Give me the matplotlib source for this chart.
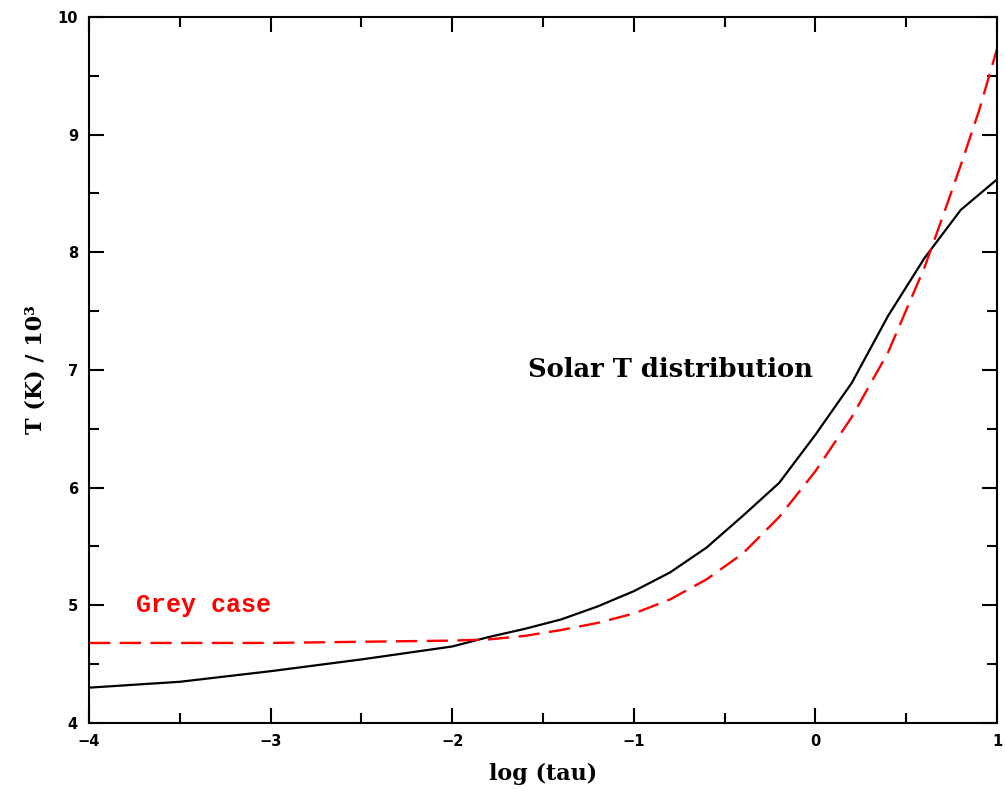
import matplotlib
matplotlib.use('Agg')
import matplotlib.pyplot as plt
from matplotlib.ticker import MultipleLocator

# log(tau) sample points and temperatures (units of 10^3 K)
log_tau = [-4.0, -3.5, -3.0, -2.5, -2.0, -1.8, -1.6, -1.4, -1.2, -1.0,
           -0.8, -0.6, -0.4, -0.2, 0.0, 0.2, 0.4, 0.6, 0.8, 1.0]
solar_T = [4.30, 4.35, 4.44, 4.54, 4.65, 4.73, 4.80, 4.88, 4.99, 5.12,
           5.28, 5.49, 5.76, 6.04, 6.45, 6.89, 7.46, 7.95, 8.36, 8.62]

grey_tau = [-4.0, -3.5, -3.0, -2.5, -2.0, -1.8, -1.6, -1.4, -1.2, -1.0,
            -0.8, -0.6, -0.4, -0.2, 0.0, 0.2, 0.4, 0.6, 0.7, 0.8, 0.9, 1.0]
grey_T = [4.68, 4.68, 4.68, 4.69, 4.70, 4.71, 4.74, 4.79, 4.85, 4.93,
          5.05, 5.22, 5.44, 5.75, 6.14, 6.60, 7.15, 7.87, 8.30, 8.74, 9.20, 9.73]

serif = 'DejaVu Serif'

fig = plt.figure(figsize=(10.05, 7.89), dpi=100)
ax = fig.add_axes([0.0886, 0.0837, 0.9035, 0.8948])

ax.plot(log_tau, solar_T, color='black', lw=1.6)
ax.plot(grey_tau, grey_T, color='red', lw=1.7, dashes=(9, 4))

ax.set_xlim(-4, 1)
ax.set_ylim(4, 10)

ax.xaxis.set_major_locator(MultipleLocator(1))
ax.xaxis.set_minor_locator(MultipleLocator(0.5))
ax.yaxis.set_major_locator(MultipleLocator(1))
ax.yaxis.set_minor_locator(MultipleLocator(0.5))
ax.tick_params(which='both', direction='in', top=True, right=True, width=1.5)
ax.tick_params(which='major', length=11, labelsize=10.5, pad=8)
ax.tick_params(which='minor', length=7)
for lab in ax.get_xticklabels() + ax.get_yticklabels():
    lab.set_fontweight('bold')
for s in ax.spines.values():
    s.set_linewidth(1.5)

ax.set_xlabel('log (tau)', fontsize=16, fontweight='bold', family=serif, labelpad=10)
ax.set_ylabel('T (K) / 10³', fontsize=16, fontweight='bold', family=serif, labelpad=8)

ax.text(-0.80, 7.0, 'Solar T distribution', fontsize=18.5, family=serif,
        fontweight='bold', ha='center', va='center')
ax.text(-3.37, 5.0, 'Grey case', fontsize=18, family='Liberation Mono',
        fontweight='bold', color='red', ha='center', va='center')

plt.savefig('out.png')
